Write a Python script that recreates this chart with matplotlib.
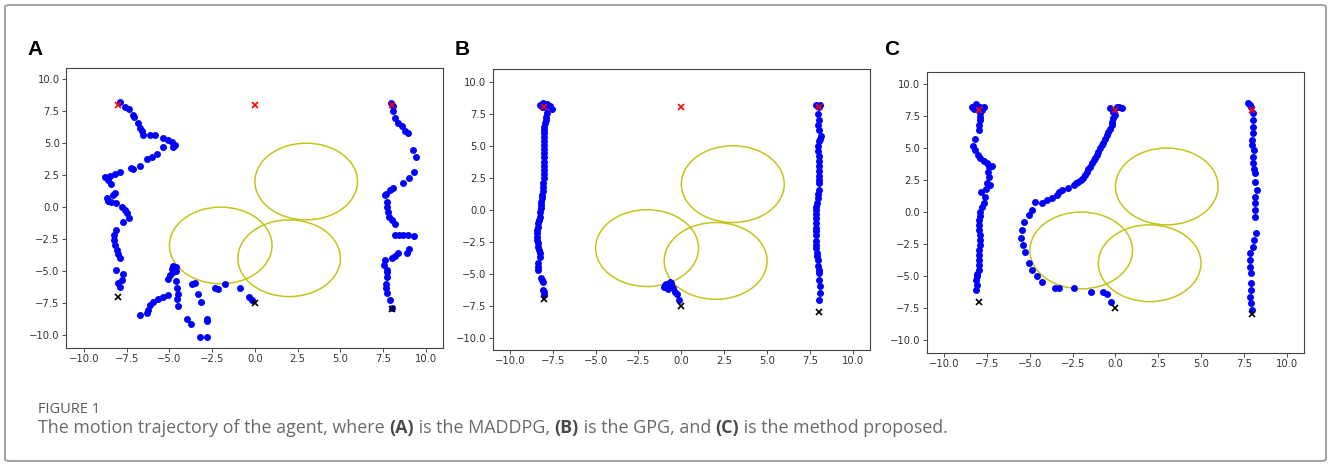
import matplotlib
matplotlib.use("Agg")
import matplotlib.pyplot as plt
from matplotlib.patches import Circle, FancyBboxPatch

# ---------------- data ----------------
goal_x = [-8.0, 0.0, 8.0]
goal_y = [8.0, 8.0, 8.0]
start_x = [-8.0, 0.0, 8.0]
start_y = [-7.0, -7.5, -8.0]
obstacle_cx = [3.0, -2.0, 2.0]
obstacle_cy = [2.0, -3.0, -4.0]
obstacle_r = [3.0, 3.0, 3.0]
tick_vals = [-10.0, -7.5, -5.0, -2.5, 0.0, 2.5, 5.0, 7.5, 10.0]
panel_labels = ["A", "B", "C"]

# Panel A (MADDPG)
a1_x = [-7.89, -8.0, -7.79, -7.74, -8.13,
        -7.89, -8.0, -8.09, -8.19, -8.25, -8.25, -8.13,
        -7.70, -7.35, -7.5, -7.6, -7.79, -8.13, -8.39, -8.58, -8.67, -8.29, -8.19,
        -8.44, -8.58, -8.77, -8.48, -8.19, -7.89,
        -7.27, -7.15, -6.72,
        -6.3, -6.04, -5.75,
        -5.36, -4.78, -4.68, -4.87, -5.07, -5.36,
        -5.85, -6.14, -6.53, -6.62, -6.72, -6.82,
        -7.06, -7.12, -7.35, -7.6, -7.89]
a1_y = [-6.23, -5.96, -5.7, -5.26, -4.92,
        -3.96, -3.69, -3.36, -2.97, -2.58, -2.18, -1.79,
        -1.19, -0.88, -0.49, -0.23, 0.04, 0.30, 0.42, 0.48, 0.69, 0.95, 1.08,
        1.78, 2.12, 2.38, 2.46, 2.57, 2.72,
        3.08, 2.98, 3.24,
        3.76, 3.94, 4.13,
        4.68, 4.68, 4.86, 5.07, 5.25, 5.38,
        5.64, 5.64, 5.64, 5.95, 6.21, 6.56,
        7.03, 7.2, 7.68, 7.86, 8.25]
a2_x = [-0.15, -0.33, -0.88, -1.75, -2.15, -2.34, -3.51, -3.70, -3.32, -3.16,
        -2.79, -2.82, -3.96, -3.74, -3.22, -2.82,
        -4.78, -4.62, -4.87, -4.60, -4.80, -4.97, -5.07, -4.62, -4.54, -4.48, -4.54, -4.48,
        -5.11, -5.36, -5.65, -5.95, -6.14, -6.28, -6.34, -6.73]
a2_y = [-7.25, -7.05, -6.34, -6.03, -6.42, -6.29, -5.90, -6.03, -6.81, -7.43,
        -8.72, -8.90, -8.75, -9.14, -10.18, -10.18,
        -4.62, -4.70, -4.85, -5.00, -5.10, -5.31, -5.66, -5.77, -6.35, -6.81, -7.20, -7.72,
        -6.89, -7.00, -7.21, -7.39, -7.65, -8.04, -8.30, -8.43]
a3_x = [7.95, 8.05, 8.09, 8.19, 8.38, 8.58, 8.77, 8.96, 9.26, 9.42, 9.30, 9.02, 8.67,
        8.09, 7.89, 7.66, 7.60, 7.70, 7.70, 7.76, 7.84, 8.0, 8.19,
        8.19, 8.44, 8.67, 8.96, 9.30, 9.02, 8.87, 8.38, 8.19, 8.0,
        7.60, 7.54, 7.70, 7.72, 7.73, 7.68, 7.66, 7.70, 7.89, 8.0]
a3_y = [8.15, 7.9, 7.51, 6.99, 6.60, 6.34, 5.95, 5.82, 4.50, 3.88, 2.74, 2.30, 1.88,
        1.48, 1.30, 1.05, 0.91, 0.39, 0.0, -0.39, -0.78, -1.03, -1.29,
        -2.22, -2.22, -2.22, -2.22, -2.25, -3.30, -3.61, -3.62, -3.80, -3.98,
        -4.12, -4.52, -4.92, -5.10, -5.43, -6.05, -6.35, -6.74, -7.26, -7.88]

# Panel B (GPG)
b1_x = [-8.25, -8.06, -7.86, -7.67, -7.57, -8.15, -7.95,
        -7.85, -7.90, -7.92, -7.95, -7.98, -8.0, -8.0, -8.0, -8.0, -8.0, -7.98, -7.98,
        -8.0, -8.02, -8.02, -8.02, -8.03, -8.03, -8.04, -8.06, -8.08, -8.10, -8.13,
        -8.16, -8.18, -8.20, -8.22, -8.25, -8.30, -8.33, -8.38, -8.41, -8.42, -8.41,
        -8.40, -8.37, -8.33, -8.28, -8.25, -8.25, -8.33, -8.35, -8.33, -8.20, -8.10,
        -8.06, -8.06, -8.02, -8.0]
b1_y = [8.18, 8.36, 8.26, 8.10, 7.84, 8.0, 8.05,
        7.55, 7.27, 7.0, 6.74, 6.48, 6.22, 5.96, 5.70, 5.40, 5.05, 4.75, 4.40,
        4.10, 3.75, 3.45, 3.10, 2.80, 2.45, 2.10, 1.80, 1.45, 1.15, 0.88,
        0.62, 0.35, 0.10, -0.20, -0.55, -0.80, -1.07, -1.35, -1.59, -1.85, -2.11,
        -2.40, -2.63, -2.90, -3.15, -3.40, -3.67, -4.19, -4.45, -4.71, -5.36, -5.50,
        -5.63, -6.28, -6.45, -6.67]
b2_x = [-1.03, -0.87, -0.68, -0.78, -0.58, -0.49, -0.39, -0.25, -0.14, -0.95, -0.60]
b2_y = [-6.02, -5.83, -5.63, -6.20, -5.89, -6.15, -6.41, -6.60, -7.05, -5.90, -5.75]
b3_x = [7.88, 8.08, 8.0, 7.96, 8.0, 7.94, 8.04, 8.14, 8.06, 8.0, 7.94, 7.97, 8.0,
        8.0, 8.0, 8.04, 8.02, 8.0, 8.0, 8.0, 7.98, 7.94, 7.90, 7.88, 7.88, 7.88, 7.88,
        7.88, 7.88, 7.88, 7.86, 7.84, 7.86, 7.88, 7.90, 7.92, 7.94, 7.96, 8.0, 8.02,
        8.04, 8.06, 8.08, 8.04]
b3_y = [8.21, 8.18, 8.0, 7.45, 7.04, 6.65, 6.26, 5.74, 5.55, 5.35, 4.96, 4.55, 4.17,
        3.78, 3.40, 3.0, 2.61, 2.35, 2.09, 1.57, 1.25, 0.92, 0.53, 0.25, 0.01, -0.30,
        -0.64, -1.03, -1.43, -1.70, -1.95, -2.47, -2.75, -2.99, -3.38, -3.65, -3.90,
        -4.42, -4.70, -4.94, -5.46, -5.98, -6.50, -7.02]

# Panel C (proposed method)
c1_x = [-8.39, -8.14, -7.91, -7.67, -8.25, -7.80, -7.91, -7.91, -7.91, -7.95, -7.98,
        -8.18, -8.30, -8.20, -8.06, -7.91, -7.71, -7.52, -7.36, -7.22, -7.42, -7.36,
        -7.32, -7.48, -7.56, -7.85, -7.61, -7.71, -7.81, -7.91, -7.93, -7.96, -7.95,
        -7.95, -7.94, -7.93, -7.94, -7.95, -7.96, -7.98, -7.98, -7.98, -8.10, -8.10,
        -8.14, -8.10, -8.16]
c1_y = [8.23, 8.44, 8.18, 8.23, 8.05, 8.0, 7.71, 7.45, 7.19, 6.80, 6.41,
        5.68, 5.18, 4.84, 4.45, 4.19, 4.01, 3.80, 3.54, 3.59, 3.15, 2.76,
        2.11, 2.24, 1.77, 1.54, 1.20, 0.68, 0.42, 0.03, -0.30, -0.63, -1.0,
        -1.41, -1.80, -2.19, -2.60, -2.97, -3.35, -3.75, -4.15, -4.53, -4.84, -5.0,
        -5.31, -5.70, -6.09]
c2_x = [-0.31, 0.08, 0.37, -0.12, 0.20, -0.05, -0.12, -0.18, -0.21, -0.30, -0.41,
        -0.50, -0.60, -0.70, -0.80, -0.89, -1.0, -1.09, -1.20, -1.28, -1.38, -1.48,
        -1.58, -1.67, -1.75, -1.87, -2.0, -2.16, -2.30, -2.45, -2.75, -3.14, -3.30,
        -3.43, -3.72, -4.01, -4.30, -4.73, -4.88, -5.08, -5.37, -5.47, -5.51, -5.41,
        -5.27, -5.08, -4.88, -4.59, -4.30, -3.52, -3.27, -2.45, -1.44, -0.70, -0.50,
        -0.27]
c2_y = [8.10, 8.23, 8.10, 7.84, 8.20, 7.60, 7.32, 7.05, 6.80, 6.50, 6.27,
        6.02, 5.70, 5.37, 5.20, 4.98, 4.70, 4.45, 4.25, 4.06, 3.80, 3.54,
        3.35, 3.15, 2.90, 2.63, 2.50, 2.37, 2.25, 2.11, 1.85, 1.72, 1.60,
        1.33, 1.07, 0.94, 0.73, 0.81, 0.16, -0.23, -0.76, -1.41, -2.06, -2.58,
        -3.10, -4.01, -4.53, -5.0, -5.44, -5.96, -5.96, -5.96, -6.22, -6.22, -6.40,
        -7.0]
c3_x = [7.73, 7.87, 7.95, 8.02, 8.02, 8.02, 8.02, 8.0, 8.0, 8.10, 8.06, 8.06, 8.10,
        8.14, 8.14, 8.26, 8.16, 8.16, 8.16, 8.16, 8.22, 8.10, 8.02, 7.87, 7.87, 7.87,
        7.90, 7.90, 7.90, 7.87, 7.92, 7.97]
c3_y = [8.54, 8.36, 8.18, 7.71, 7.19, 6.67, 6.15, 5.63, 5.23, 4.84, 4.32, 3.80, 3.40,
        3.02, 2.37, 1.72, 1.20, 0.68, 0.16, -0.36, -1.67, -2.19, -2.71, -3.23, -3.75, -4.27,
        -4.79, -5.57, -6.09, -6.61, -7.14, -7.66]

panels = [
    [(a1_x, a1_y), (a2_x, a2_y), (a3_x, a3_y)],
    [(b1_x, b1_y), (b2_x, b2_y), (b3_x, b3_y)],
    [(c1_x, c1_y), (c2_x, c2_y), (c3_x, c3_y)],
]

# ---------------- layout ----------------
W, H = 1328, 466
fig = plt.figure(figsize=(W / 100, H / 100), dpi=100)
fig.patch.set_facecolor("white")

# outer frame
frame = FancyBboxPatch((5 / W, 5 / H), 1321 / W, 456 / H,
                       boxstyle="round,pad=0,rounding_size=0.004",
                       transform=fig.transFigure, facecolor="none",
                       edgecolor="#a0a0a0", linewidth=1.4, zorder=0)
fig.patches.append(frame)

axes_px = [(66, 68, 443, 348), (492.7, 69.3, 870, 350), (926.7, 72, 1304, 352.7)]
xlims = [(-11.05, 11.0), (-11.0, 11.0), (-11.03, 11.02)]
ylims = [(-11.02, 10.88), (-10.96, 10.97), (-10.99, 10.94)]
label_px = [(27, 55), (455, 55), (884, 55)]

for i, trajs in enumerate(panels):
    l, t, r, b = axes_px[i]
    ax = fig.add_axes([l / W, 1 - b / H, (r - l) / W, (b - t) / H])
    for (tx, ty) in trajs:
        ax.plot(tx, ty, "o", color="blue", markersize=5.0, markeredgewidth=0, zorder=2)
    for cx, cy, rr in zip(obstacle_cx, obstacle_cy, obstacle_r):
        ax.add_patch(Circle((cx, cy), rr, fill=False, edgecolor="#c4c41a",
                            linewidth=1.1, zorder=1))
    ax.plot(goal_x, goal_y, "x", color="red", markersize=4.4, markeredgewidth=1.2, zorder=3)
    ax.plot(start_x, start_y, "x", color="black", markersize=4.4, markeredgewidth=1.2, zorder=3)
    ax.set_xlim(*xlims[i])
    ax.set_ylim(*ylims[i])
    ax.set_xticks(tick_vals)
    ax.set_yticks(tick_vals)
    ax.tick_params(labelsize=7.2, length=2.6, width=0.6, colors="#333333", pad=2)
    for sp in ax.spines.values():
        sp.set_color("#444444")
        sp.set_linewidth(0.8)
    fig.text(label_px[i][0] / W, 1 - label_px[i][1] / H, panel_labels[i],
             fontsize=15, fontweight="bold", family="Liberation Sans",
             va="baseline", ha="left", color="black")

# caption
fig.text(38 / W, 1 - 413 / H, "FIGURE 1", fontsize=10.5, family="Open Sans",
         color="#5a5a5a", va="baseline", ha="left")

caption_parts = [
    ("The motion trajectory of the agent, where ", False),
    ("(A)", True), (" is the MADDPG, ", False),
    ("(B)", True), (" is the GPG, and ", False),
    ("(C)", True), (" is the method proposed.", False),
]
renderer = fig.canvas.get_renderer()
xpos = 38
for txt, bold in caption_parts:
    tobj = fig.text(xpos / W, 1 - 433 / H, txt, fontsize=12.9, family="Open Sans",
                    fontweight="bold" if bold else "normal",
                    color="#4a4a4a" if bold else "#6a6a6a",
                    va="baseline", ha="left")
    bb = tobj.get_window_extent(renderer=renderer)
    xpos = bb.x1

fig.savefig("out.png", dpi=100, facecolor="white")
